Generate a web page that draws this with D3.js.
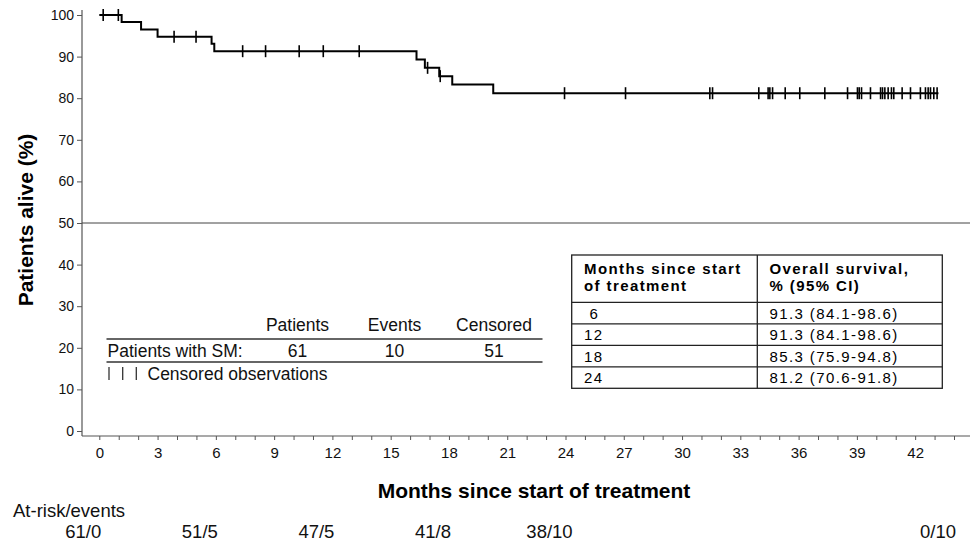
<!DOCTYPE html>
<html>
<head>
<meta charset="utf-8">
<script src="https://cdn.jsdelivr.net/npm/d3@7"></script>
<style>
  body { margin: 0; background: #fff; }
  svg { display: block; font-family: "Liberation Sans", Arial, sans-serif; }
</style>
</head>
<body>
<div id="chart"></div>
<script>
// Kaplan-Meier steps (time in months, survival % after the event)
const eventTimes = [1.15, 2.15, 3.0, 5.78, 5.92, 16.33, 16.76, 17.5, 18.17, 20.28];
const survivalAfter = [98.3, 96.5, 94.8, 93.1, 91.3, 89.3, 87.3, 85.3, 83.3, 81.2];
const lastTime = 43.2;

// Censored observations (months)
const censorTimes = [0.2, 0.98, 3.85, 4.98, 7.38, 8.56, 10.29, 11.53, 13.38, 16.9, 17.55,
    23.95, 27.09, 31.43, 31.57, 33.95, 34.43, 34.52, 34.66, 35.31, 36.06, 37.35, 38.52,
    39.03, 39.12, 39.24, 39.7, 40.22, 40.32, 40.44, 40.61, 40.78, 40.9, 41.33, 41.76,
    42.27, 42.53, 42.67, 42.79, 42.96, 43.13];

// Axis ticks
const xTickValues = d3.range(0, 45);
const xLabelValues = d3.range(0, 43, 3);
const yTickValues = d3.range(0, 101, 10);

// Number at risk / events
const atRiskTimes = [0, 6, 12, 18, 24, 44];
const atRiskLabels = ["61/0", "51/5", "47/5", "41/8", "38/10", "0/10"];

// Summary legend
const legendHeaders = ["Patients", "Events", "Censored"];
const legendValues = ["61", "10", "51"];

// Survival table
const tableHeader = [["Months since start", "of treatment"], ["Overall survival,", "% (95% CI)"]];
const tableMonths = [" 6", "12", "18", "24"];
const tableSurvival = ["91.3 (84.1-98.6)", "91.3 (84.1-98.6)", "85.3 (75.9-94.8)", "81.2 (70.6-91.8)"];

// Configuration
const config = {
    width: 976,
    height: 544,
    axisX: 82,
    axisY: 436,
    axisRight: 970,
    axisTop: 10,
    colors: { axis: "#555", curve: "#000", text: "#111" }
};

const svg = d3.select("#chart").append("svg")
    .attr("width", config.width)
    .attr("height", config.height);

const x = d3.scaleLinear().domain([0, 44]).range([99.3, 954]);
const y = d3.scaleLinear().domain([0, 100]).range([431, 15]);

// Axis lines
svg.append("line")
    .attr("x1", config.axisX).attr("x2", config.axisX)
    .attr("y1", config.axisTop).attr("y2", config.axisY)
    .attr("stroke", config.colors.axis).attr("stroke-width", 1.2);
svg.append("line")
    .attr("x1", config.axisX).attr("x2", config.axisRight)
    .attr("y1", config.axisY).attr("y2", config.axisY)
    .attr("stroke", config.colors.axis).attr("stroke-width", 1.2);

// X axis ticks every month, labels every 3 months
const xAxis = svg.append("g")
    .attr("transform", `translate(0,${config.axisY})`)
    .call(d3.axisBottom(x)
        .tickValues(xTickValues)
        .tickSize(4)
        .tickFormat(d => xLabelValues.includes(d) ? d : ""));
xAxis.select(".domain").remove();
xAxis.selectAll("line").attr("stroke", config.colors.axis);
xAxis.selectAll("text")
    .attr("y", 11)
    .attr("font-size", "15px")
    .attr("font-family", "Liberation Sans, Arial, sans-serif")
    .attr("fill", config.colors.text);

// Y axis
const yAxis = svg.append("g")
    .attr("transform", `translate(${config.axisX},0)`)
    .call(d3.axisLeft(y).tickValues(yTickValues).tickSize(5).tickPadding(3));
yAxis.select(".domain").remove();
yAxis.selectAll("line").attr("stroke", config.colors.axis);
yAxis.selectAll("text")
    .attr("font-size", "14px")
    .attr("font-family", "Liberation Sans, Arial, sans-serif")
    .attr("fill", config.colors.text);

// 50% reference line
svg.append("line")
    .attr("x1", config.axisX).attr("x2", config.axisRight)
    .attr("y1", y(50)).attr("y2", y(50))
    .attr("stroke", "#444").attr("stroke-width", 1);

// Survival step curve
const stepPoints = [[0, 100]]
    .concat(eventTimes.map((t, i) => [t, survivalAfter[i]]))
    .concat([[lastTime, survivalAfter[survivalAfter.length - 1]]]);

svg.append("path")
    .datum(stepPoints)
    .attr("fill", "none")
    .attr("stroke", config.colors.curve)
    .attr("stroke-width", 2)
    .attr("d", d3.line().x(d => x(d[0])).y(d => y(d[1])).curve(d3.curveStepAfter));

// Survival level at a given time (for placing censor marks on the curve)
function levelAt(t) {
    const i = d3.bisectRight(eventTimes, t);
    return i === 0 ? 100 : survivalAfter[i - 1];
}

svg.append("g").selectAll("line")
    .data(censorTimes)
    .enter()
    .append("line")
    .attr("x1", d => x(d)).attr("x2", d => x(d))
    .attr("y1", d => y(levelAt(d)) - 6)
    .attr("y2", d => y(levelAt(d)) + 6)
    .attr("stroke", config.colors.curve)
    .attr("stroke-width", 1.6);

// Axis titles
svg.append("text")
    .attr("transform", "translate(33,220) rotate(-90)")
    .attr("text-anchor", "middle")
    .attr("font-size", "21px")
    .attr("font-weight", "bold")
    .attr("fill", "#000")
    .text("Patients alive (%)");

svg.append("text")
    .attr("x", 534)
    .attr("y", 498)
    .attr("text-anchor", "middle")
    .attr("font-size", "21px")
    .attr("font-weight", "bold")
    .attr("fill", "#000")
    .text("Months since start of treatment");

// At-risk row
svg.append("text")
    .attr("x", 13)
    .attr("y", 517)
    .attr("font-size", "18.5px")
    .attr("fill", config.colors.text)
    .text("At-risk/events");

svg.append("g").selectAll("text")
    .data(atRiskTimes)
    .enter()
    .append("text")
    .attr("x", d => x(d) - 16)
    .attr("y", 538)
    .attr("text-anchor", "middle")
    .attr("font-size", "18.5px")
    .attr("fill", config.colors.text)
    .text((d, i) => atRiskLabels[i]);

// Summary legend
const legend = svg.append("g").attr("font-size", "17.5px").attr("fill", config.colors.text);
const legendCols = [297.5, 394.5, 494];

legend.selectAll(".hdr")
    .data(legendHeaders)
    .enter()
    .append("text")
    .attr("class", "hdr")
    .attr("x", (d, i) => legendCols[i])
    .attr("y", 331)
    .attr("text-anchor", "middle")
    .text(d => d);

legend.append("line")
    .attr("x1", 106.5).attr("x2", 542.5).attr("y1", 339).attr("y2", 339)
    .attr("stroke", "#333").attr("stroke-width", 1.3);

legend.append("text")
    .attr("x", 107.5)
    .attr("y", 357)
    .text("Patients with SM:");

legend.selectAll(".val")
    .data(legendValues)
    .enter()
    .append("text")
    .attr("class", "val")
    .attr("x", (d, i) => legendCols[i])
    .attr("y", 357)
    .attr("text-anchor", "middle")
    .text(d => d);

legend.append("line")
    .attr("x1", 106.5).attr("x2", 542.5).attr("y1", 362).attr("y2", 362)
    .attr("stroke", "#333").attr("stroke-width", 1.3);

legend.selectAll(".bar")
    .data([109, 122.7, 136.3])
    .enter()
    .append("line")
    .attr("class", "bar")
    .attr("x1", d => d).attr("x2", d => d)
    .attr("y1", 367).attr("y2", 380)
    .attr("stroke", "#333").attr("stroke-width", 1.3);

legend.append("text")
    .attr("x", 147.5)
    .attr("y", 379.5)
    .text("Censored observations");

// Survival table
const table = svg.append("g")
    .attr("font-size", "15px")
    .attr("letter-spacing", "1.4px")
    .attr("fill", "#000");

const tbl = { left: 571.7, right: 942.3, top: 255, headerBottom: 302.3, rowH: 21.5, divider: 757.3 };
const tblBottom = tbl.headerBottom + tbl.rowH * tableMonths.length;

table.append("rect")
    .attr("x", tbl.left).attr("y", tbl.top)
    .attr("width", tbl.right - tbl.left).attr("height", tblBottom - tbl.top)
    .attr("fill", "#fff").attr("stroke", "#222").attr("stroke-width", 1.3);

table.append("line")
    .attr("x1", tbl.divider).attr("x2", tbl.divider)
    .attr("y1", tbl.top).attr("y2", tblBottom)
    .attr("stroke", "#222").attr("stroke-width", 1.3);

table.selectAll(".rowline")
    .data(d3.range(tableMonths.length))
    .enter()
    .append("line")
    .attr("class", "rowline")
    .attr("x1", tbl.left).attr("x2", tbl.right)
    .attr("y1", i => tbl.headerBottom + i * tbl.rowH)
    .attr("y2", i => tbl.headerBottom + i * tbl.rowH)
    .attr("stroke", "#222").attr("stroke-width", 1.3);

const colX = [584, 769.5];
tableHeader.forEach((lines, c) => {
    lines.forEach((txt, l) => {
        table.append("text")
            .attr("x", colX[c])
            .attr("y", 273.5 + l * 17.5)
            .attr("font-weight", "bold")
            .text(txt);
    });
});

table.selectAll(".month")
    .data(tableMonths)
    .enter()
    .append("text")
    .attr("class", "month")
    .attr("x", colX[0])
    .attr("y", (d, i) => tbl.headerBottom + i * tbl.rowH + 16.5)
    .attr("xml:space", "preserve")
    .style("white-space", "pre")
    .text(d => d);

table.selectAll(".surv")
    .data(tableSurvival)
    .enter()
    .append("text")
    .attr("class", "surv")
    .attr("x", colX[1])
    .attr("y", (d, i) => tbl.headerBottom + i * tbl.rowH + 16.5)
    .text(d => d);
</script>
</body>
</html>
